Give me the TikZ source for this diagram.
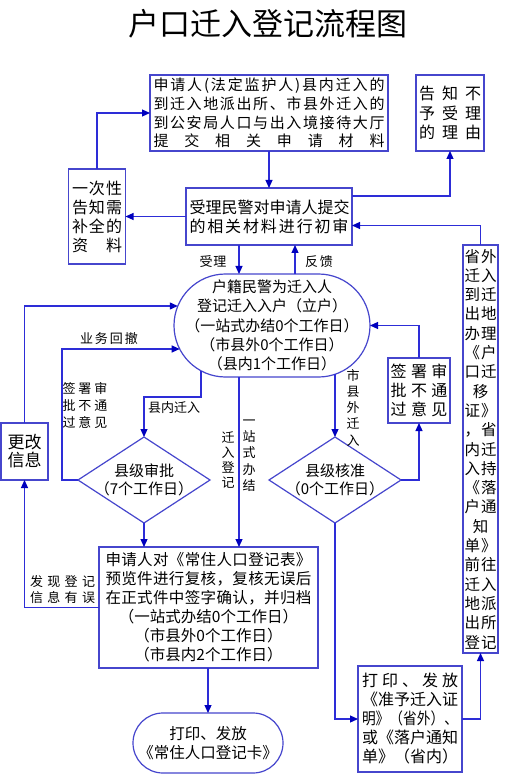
\documentclass[tikz,border=0pt]{standalone}
\usepackage{fontspec}
\setmainfont{Noto Sans CJK SC}
\usetikzlibrary{shapes.geometric,arrows.meta,calc}
\definecolor{bc}{RGB}{70,70,205}
\definecolor{lc}{RGB}{45,45,215}
\definecolor{tc}{RGB}{0,0,190}
\makeatletter
\def\sprd#1#2{\makebox[#1][s]{\sprd@first#2\relax}}
\def\sprd@first#1{#1\sprd@rest}
\def\sprd@rest#1{\ifx\relax#1\else\hfil#1\expandafter\sprd@rest\fi}
\makeatother
\newcommand\fsz[2]{\fontsize{#1pt}{#2pt}\selectfont}
\newcommand\tw[1]{\sprd{32pt}{#1}}
\begin{document}
\begin{tikzpicture}[x=1pt,y=-1pt,
  box/.style={draw=bc,line width=1.2pt,inner sep=0pt,outer sep=0pt,align=center,text=black},
  dia/.style={draw=bc,line width=1.2pt,shape=diamond,minimum width=132pt,minimum height=86pt,inner sep=0pt,outer sep=0pt},
  dtext/.style={align=center,font=\fsz{15}{18},inner sep=0pt},
  conn/.style={draw=lc,line width=1.2pt,-{Triangle[length=8pt,width=7pt,color=tc]}},
  lbl/.style={inner sep=0pt,align=center,font=\fsz{13}{17},text=black}]
\fill[white] (0,0) rectangle (504,775);
\useasboundingbox (0,0) rectangle (504,775);

% title
\node[inner sep=0pt,font=\fsz{31}{31}] (title) at (267.5,24) {户口迁入登记流程图};

% boxes
\node[box,minimum width=238pt,minimum height=76pt,font=\fsz{15}{18.7}] (A) at (269,113)
 {\sprd{231pt}{申请人(法定监护人)县内迁入的}\\\sprd{231pt}{到迁入地派出所、市县外迁入的}\\\sprd{231pt}{到公安局人口与出入境接待大厅}\\\sprd{231pt}{提交相关申请材料}};
\node[box,minimum width=68pt,minimum height=76pt,font=\fsz{16}{19.5}] (B) at (450,113)
 {\sprd{62pt}{告知不}\\\sprd{62pt}{予受理}\\\sprd{62pt}{的理由}};
\node[box,minimum width=166pt,minimum height=57pt,font=\fsz{16}{19}] (C) at (269,216.5)
 {\sprd{159pt}{受理民警对申请人提交}\\\sprd{159pt}{的相关材料进行初审}};
\node[box,minimum width=57pt,minimum height=95pt,font=\fsz{16}{19}] (D) at (97,216.5)
 {\sprd{50pt}{一次性}\\\sprd{50pt}{告知需}\\\sprd{50pt}{补全的}\\\sprd{50pt}{资料}};
\node[box,minimum width=35pt,minimum height=408pt,font=\fsz{15.5}{19.3}] (E) at (480.5,449)
 {\tw{省外}\\\tw{迁入}\\\tw{到迁}\\\tw{出地}\\\tw{办理}\\\tw{《户}\\\tw{口迁}\\移\\\tw{证》}\\\tw{，省}\\\tw{内迁}\\\tw{入持}\\\tw{《落}\\\tw{户通}\\知\\\tw{单》}\\\tw{前往}\\\tw{迁入}\\\tw{地派}\\\tw{出所}\\\tw{登记}};
\node[box,rounded corners=51.5pt,minimum width=196pt,minimum height=103pt,font=\fsz{15}{19.3}] (F) at (272,325.5)
 {户籍民警为迁入人\\登记迁入入户（立户）\\（一站式办结0个工作日）\\（市县外0个工作日）\\（县内1个工作日）};
\node[box,minimum width=47pt,minimum height=57pt,font=\fsz{17}{18}] (G) at (24.5,451.5) {更改\\信息};
\node[box,minimum width=62pt,minimum height=65pt,font=\fsz{16}{19}] (J) at (419,390.5)
 {\sprd{57pt}{签署审}\\\sprd{57pt}{批不通}\\\sprd{57pt}{过意见}};
\node[dia,label={[dtext]center:{县级审批\\（7个工作日）}}] (H) at (144,480) {};
\node[dia,label={[dtext]center:{县级核准\\（0个工作日）}}] (K) at (335,480) {};
\node[box,minimum width=219pt,minimum height=121pt,font=\fsz{15.5}{19}] (I) at (208.5,607.5)
 {\sprd{206pt}{申请人对《常住人口登记表》}\\\sprd{206pt}{预览件进行复核，复核无误后}\\\sprd{206pt}{在正式件中签字确认，并归档}\\（一站式办结0个工作日）\\（市县外0个工作日）\\（市县内2个工作日）};
\node[box,minimum width=104pt,minimum height=106pt,font=\fsz{16}{19}] (L) at (410,719)
 {\sprd{96pt}{打印、发放}\\\sprd{96pt}{《准予迁入证}\\\resizebox{96pt}{\height}{明》（省外）、}\\\sprd{96pt}{或《落户通知}\\\sprd{96pt}{单》（省内）}};
\node[box,rounded corners=30pt,minimum width=150pt,minimum height=60pt,font=\fsz{15.5}{19}] (M) at (208,743)
 {打印、发放\\《常住人口登记卡》};

% column helpers
\coordinate (colA) at (239,0);
\coordinate (colB) at (295,0);

% connectors
\draw[conn] (A.south) -- (C.north);
\draw[conn] ($(C.east)+(0,-20.5)$) -| (B.south);
\draw[conn] (C.west) -- (D.east);
\draw[conn] (D.north) |- (A.west);
\draw[conn] (E.north) |- ($(C.east)+(0,9)$);
\draw[conn] (C.south -| colA) -- (F.north -| colA);
\draw[conn] (F.north -| colB) -- (C.south -| colB);
\draw[conn] (G.north) |- ($(F.center)+(-94.2,-19.5)$);
\draw[conn] (H.west) -- ++(-16,0) |- ($(F.center)+(-92.3,23.5)$);
\draw[conn] ($(F.center)+(-71,45.3)$) -- ++(0,26.2) -| (H.north);
\draw[conn] (F.south -| colA) -- (I.north -| colA);
\draw[conn] ($(F.center)+(63,48.8)$) -- (K.north);
\draw[conn] (J.north) |- (F.east);
\draw[conn] (K.east) -| (J.south);
\draw[conn] (H.south) -- (I.north -| H.south);
\draw[conn] (K.south) |- (L.west);
\draw[conn] (L.east) -| (E.south);
\draw[conn] (I.west) -| (G.south);
\draw[conn] (I.south -| M.north) -- (M.north);

% labels
\node[lbl] (l1) at (213,262) {\sprd{27pt}{受理}};
\node[lbl] (l2) at (319,262) {\sprd{28pt}{反馈}};
\node[lbl] (l3) at (109,339) {\sprd{58pt}{业务回撤}};
\node[lbl] (l4) at (85,406) {\sprd{45pt}{签署审}\\\sprd{45pt}{批不通}\\\sprd{45pt}{过意见}};
\node[lbl] (l5) at (174,408) {县内迁入};
\node[lbl,font=\fsz{13}{15.3}] (l6) at (228,460) {迁\\入\\登\\记};
\node[lbl,font=\fsz{13}{16.25}] (l7) at (249,455.5) {一\\站\\式\\办\\结};
\node[lbl,font=\fsz{13}{16.25}] (l8) at (353,407.5) {市\\县\\外\\迁\\入};
\node[lbl,font=\fsz{13}{16}] (l9) at (62.5,590) {\sprd{65pt}{发现登记}\\\sprd{65pt}{信息有误}};
\end{tikzpicture}
\end{document}
